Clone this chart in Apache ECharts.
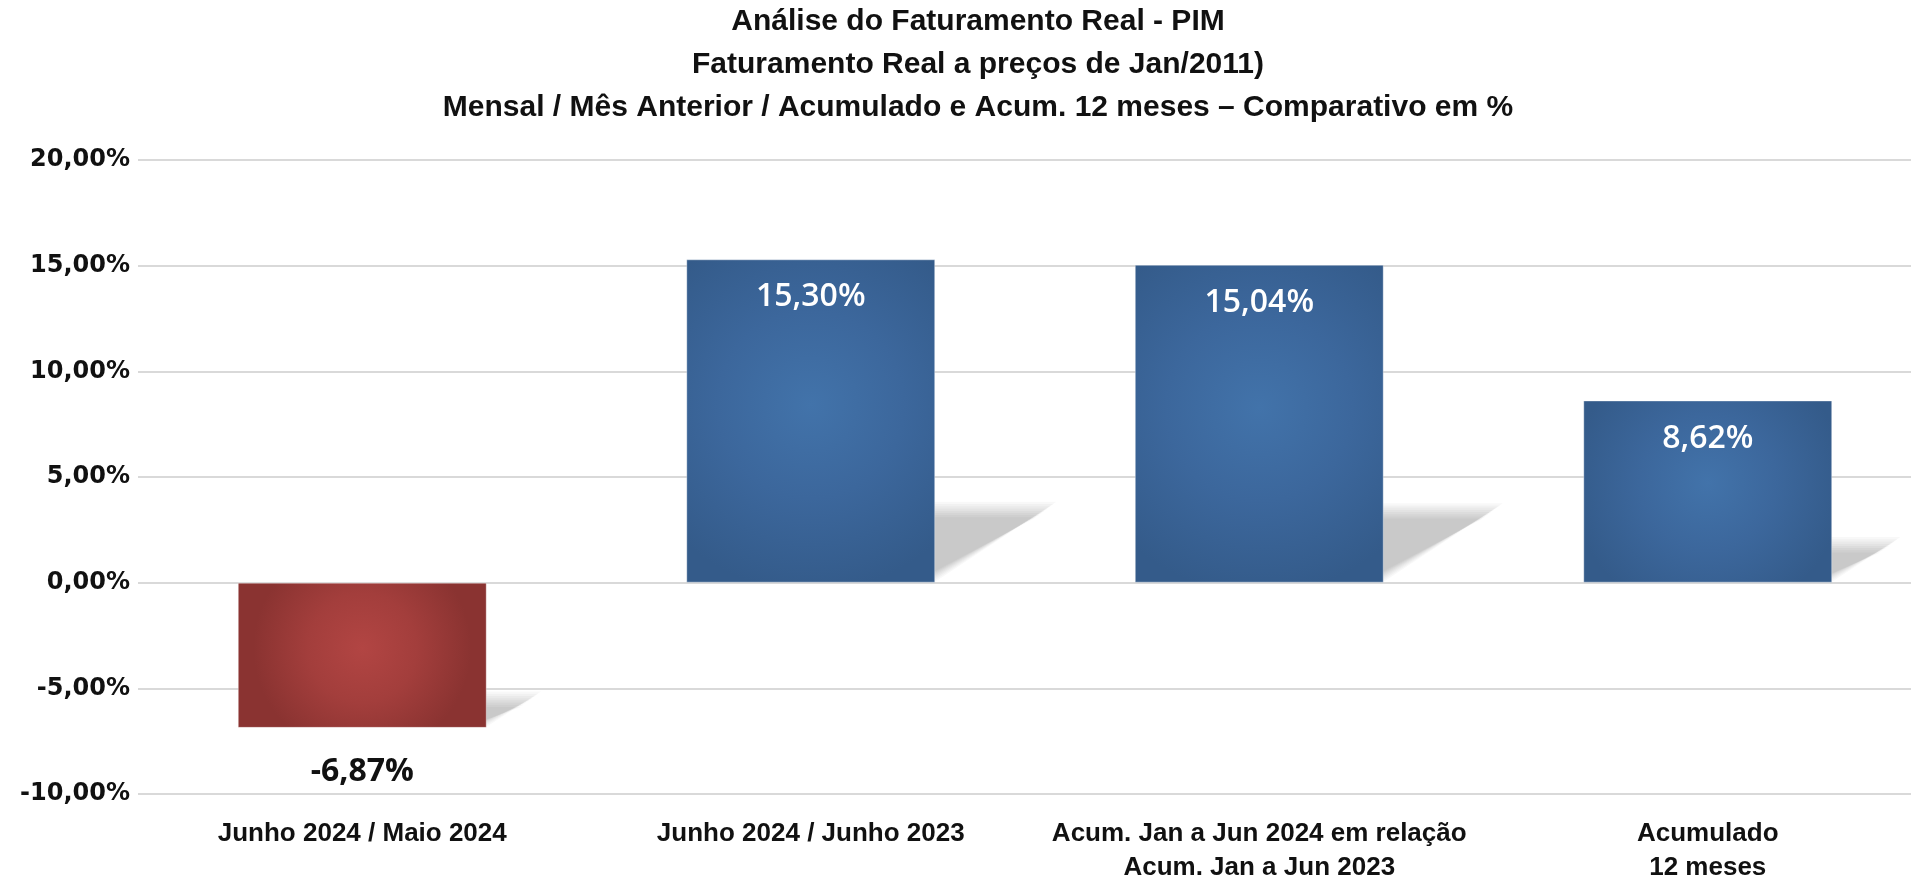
<!DOCTYPE html>
<html>
<head>
<meta charset="utf-8">
<script src="https://cdn.jsdelivr.net/npm/echarts@6/dist/echarts.min.js"></script>
<style>
  html, body { margin: 0; padding: 0; background: #fff; }
  #wrap { width: 1911px; height: 879px; overflow: hidden; position: relative; }
  #chart { width: 1940px; height: 879px; }
</style>
</head>
<body>
<div id="wrap"><div id="chart"></div></div>
<script>
// dados
var categorias = [
    "Junho 2024 / Maio 2024",
    "Junho 2024 / Junho 2023",
    "Acum. Jan a Jun 2024 em relação\nAcum. Jan a Jun 2023",
    "Acumulado\n12 meses"
];
var valores = [-6.87, 15.30, 15.04, 8.62];
var titulo = [
    "Análise do Faturamento Real - PIM",
    "Faturamento Real a preços de Jan/2011)",
    "Mensal / Mês Anterior / Acumulado e Acum. 12 meses – Comparativo em %"
];

var BAR_RATIO = 0.555;
var fonteTexto = "'Liberation Sans', Arial, sans-serif";

function pct(v) {
    return v.toFixed(2).replace('.', ',') + '%';
}

function gradBar(neg) {
    var c = neg ? ['#b24543', '#a33e3c', '#8a3331'] : ['#4273aa', '#3c679c', '#345b8a'];
    return {
        type: 'radial', x: 0.5, y: 0.45, r: 0.75,
        colorStops: [
            { offset: 0, color: c[0] },
            { offset: 0.5, color: c[1] },
            { offset: 1, color: c[2] }
        ]
    };
}

var dadosBarra = valores.map(function (v) {
    var neg = v < 0;
    return {
        value: v,
        itemStyle: { color: gradBar(neg) },
        label: neg ? {
            position: 'bottom', distance: 28, color: '#111', fontWeight: 700
        } : {
            position: 'insideTop', distance: 22, color: '#fff'
        }
    };
});

var dadosSombra = valores.map(function (v, i) { return [i, v]; });

var chart = echarts.init(document.getElementById('chart'));
var option = {
    animation: false,
    backgroundColor: '#fff',
    title: {
        text: titulo.join('\n'),
        left: 973,
        textAlign: 'center',
        top: -5,
        textStyle: {
            fontFamily: fonteTexto,
            fontWeight: 'bold',
            fontSize: 30,
            lineHeight: 43,
            color: '#111'
        }
    },
    grid: {
        left: 138, top: 160, width: 1794, height: 634,
        containLabel: false, outerBoundsMode: 'none'
    },
    xAxis: {
        type: 'category',
        data: categorias,
        axisLine: { show: false, onZero: false },
        axisTick: { show: false },
        axisLabel: {
            interval: 0,
            margin: 23,
            fontFamily: fonteTexto,
            fontWeight: 'bold',
            fontSize: 26,
            lineHeight: 34,
            color: '#111'
        }
    },
    yAxis: {
        type: 'value',
        min: -10, max: 20, interval: 5,
        axisLine: { show: false },
        axisTick: { show: false },
        splitLine: { lineStyle: { color: '#d9d9d9', width: 2 } },
        axisLabel: {
            margin: 8,
            fontFamily: "'DejaVu Sans', sans-serif",
            fontWeight: 'bold',
            fontSize: 24,
            color: '#111',
            formatter: function (v) { return pct(v); }
        }
    },
    series: [
        {
            // sombra em perspectiva atras das barras (camadas para simular desfoque)
            type: 'custom',
            z: 1,
            silent: true,
            data: dadosSombra,
            renderItem: function (params, api) {
                var idx = api.value(0);
                var v = api.value(1);
                var base = api.coord([idx, 0]);
                var fim = api.coord([idx, v]);
                var w = api.size([1, 0])[0] * BAR_RATIO;
                var yb = Math.max(base[1], fim[1]);
                var len = Math.abs(base[1] - fim[1]);
                var h = len * 0.25;
                var dx = h * 1.5;
                var xl = base[0] - w / 2, xr = base[0] + w / 2;
                var camadas = [];
                for (var k = 0; k < 8; k++) {
                    var d = k * 2.2;
                    camadas.push({
                        type: 'polygon',
                        shape: {
                            points: [
                                [xl, yb - 1],
                                [xr - d * 1.3, yb - 1],
                                [xr + dx - d * 1.3, yb - h + d],
                                [xl + dx, yb - h + d]
                            ]
                        },
                        style: { fill: 'rgba(0,0,0,0.028)' }
                    });
                }
                return { type: 'group', children: camadas };
            }
        },
        {
            type: 'bar',
            z: 2,
            barWidth: (BAR_RATIO * 100) + '%',
            data: dadosBarra,
            itemStyle: {
                borderColor: 'rgba(255,255,255,0.35)',
                borderWidth: 1
            },
            label: {
                show: true,
                fontFamily: "'Open Sans', sans-serif",
                fontWeight: 600,
                fontSize: 32,
                formatter: function (p) { return pct(p.value); }
            }
        }
    ]
};
chart.setOption(option);
window.addEventListener('resize', chart.resize);
</script>
</body>
</html>
